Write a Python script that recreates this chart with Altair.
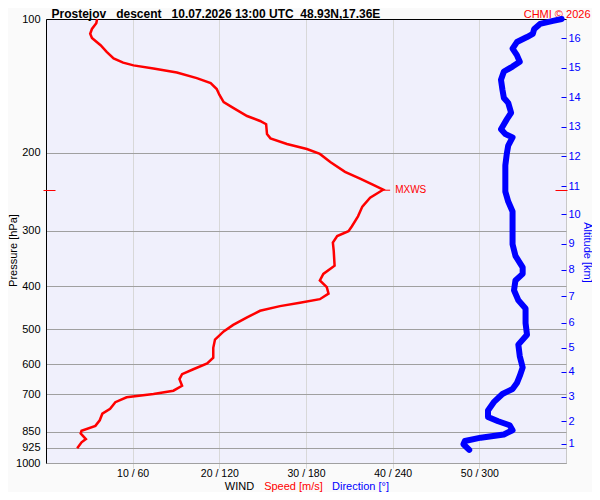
import altair as alt
import pandas as pd

FONT = "Liberation Sans"
TITLE = "Prostejov\u00a0\u00a0 descent\u00a0\u00a0 10.07.2026 13:00 UTC\u00a0 48.93N,17.36E"
COPY = "CHMI © 2026"

# wind speed profile (pressure hPa, speed m/s)
speed_p = [100.0, 102.2, 105.3, 108.0, 110.4, 114.6, 118.6, 122.7, 125.4, 127.2,
           129.2, 132.0, 135.9, 139.5, 143.8, 148.1, 153.9, 158.5, 165.4, 169.7,
           172.6, 181.6, 185.7, 191.2, 196.2, 201.3, 210.0, 221.0, 229.1, 236.2,
           242.4, 252.5, 264.5, 278.3, 292.9, 300.5, 308.3, 319.0, 333.0, 359.4,
           375.0, 388.1, 401.6, 415.4, 427.6, 435.8, 443.3, 454.1, 469.7, 488.5,
           505.4, 527.3, 550.4, 579.3, 596.4, 615.0, 631.0, 647.4, 669.9, 687.3,
           699.1, 711.1, 729.5, 754.9, 774.4, 801.4, 824.7, 846.1, 857.9, 883.1,
           898.1, 926.3]
speed_ms = [5.9, 5.8, 5.3, 5.1, 5.3, 6.3, 7.0, 7.8, 8.9, 10.1,
            12.4, 15.1, 17.4, 19.0, 19.7, 20.0, 20.5, 21.6, 23.2, 24.7,
            25.4, 25.5, 25.9, 27.8, 30.1, 31.6, 32.8, 34.5, 36.3, 37.7,
            38.9, 37.4, 36.5, 36.0, 35.3, 34.9, 33.6, 33.1, 33.2, 33.3,
            32.0, 31.6, 32.4, 32.6, 31.6, 29.3, 27.0, 24.7, 23.2, 21.6,
            20.5, 19.5, 19.3, 19.3, 18.6, 17.0, 15.7, 15.4, 15.7, 14.7,
            12.4, 9.3, 8.0, 7.4, 6.5, 6.2, 5.7, 4.1, 4.0, 4.6,
            4.1, 3.6]

# wind direction profile (pressure hPa, direction deg)
dir_p = [100.0, 101.0, 102.6, 105.3, 108.0, 109.8, 112.7, 116.6, 120.6, 124.8,
         128.0, 131.3, 137.1, 144.3, 150.6, 154.5, 162.6, 168.3, 177.1, 181.6,
         184.8, 192.8, 201.3, 213.6, 224.7, 244.8, 257.7, 271.3, 285.4, 305.5,
         321.6, 341.5, 362.5, 375.0, 388.1, 408.4, 429.8, 448.6, 484.4, 514.1,
         541.2, 574.6, 609.7, 636.6, 660.7, 681.3, 699.1, 729.5, 761.5, 787.6,
         805.4, 822.1, 843.6, 862.3, 876.9, 892.1, 907.4, 934.3]
dir_deg = [357, 351, 342, 338, 337, 333, 326, 323, 326, 328,
           323, 317, 315, 316, 317, 320, 322, 319, 315, 318,
           323, 320, 319, 318, 318, 318, 320, 323, 323, 323,
           323, 325, 330, 330, 325, 324, 327, 332, 332, 333,
           327, 328, 330, 328, 326, 323, 316, 310, 306, 306,
           313, 321, 323, 317, 301, 290, 289, 293]

# altitude scale (km at pressure hPa)
alt_km = [1, 2, 3, 4, 5, 6, 7, 8, 9, 10, 11, 12, 13, 14, 15, 16]
alt_p = [904.1, 805.4, 708.8, 622.3, 550.4, 482.8, 421.2, 367.3,
         320.6, 275.0, 237.8, 203.9, 174.9, 150.1, 128.7, 110.4]

pressure_ticks = [100, 200, 300, 400, 500, 600, 700, 850, 925, 1000]
speed_ticks = [10, 20, 30, 40, 50]

mxws_p = 243.0
mxws_v = 38.9
mxws_label = "MXWS"

speed_df = pd.DataFrame({"i": range(len(speed_p)), "p": speed_p, "v": speed_ms})
dir_df = pd.DataFrame({"i": range(len(dir_p)), "p": dir_p, "d": dir_deg})
alt_df = pd.DataFrame({"km": alt_km, "p": alt_p})
mx_df = pd.DataFrame({"p": [mxws_p], "v": [mxws_v], "t": [mxws_label]})

alt_label_expr = ("[" + ",".join(f"'{k}'" for k in alt_km) + "][indexof(["
                  + ",".join(str(p) for p in alt_p) + "], datum.value)]")


def ysc():
    return alt.Scale(type="log", domain=[100, 1000], reverse=True, nice=False)


def xsc():
    return alt.Scale(domain=[0, 60], nice=False, zero=False)


TT = dict(titleFont=FONT, titleFontSize=11, titleFontWeight="normal")
BLANK = dict(domain=False, ticks=False, labels=False, grid=False)
BOTTOM_Y = 26.5

speed = alt.Chart(speed_df).mark_line(color="#ff0000", strokeWidth=2.5).encode(
    x=alt.X("v:Q", scale=xsc(), axis=alt.Axis(
        orient="bottom", values=speed_ticks,
        labelExpr="datum.value + ' / ' + datum.value * 6",
        grid=True, gridColor="#d8d8d8", tickColor="#d8d8d8", tickSize=5,
        domainColor="#a0a0a0", labelPadding=0, labelFontSize=10.5,
        labelColor="#000000", labelFont=FONT,
        title="Speed [m/s]", titleColor="#ff0000", titleX=247, titleY=BOTTOM_Y,
        titleAlign="center", titleBaseline="alphabetic", **TT)),
    y=alt.Y("p:Q", scale=ysc(), axis=alt.Axis(
        orient="left", values=pressure_ticks, format="d",
        grid=True, gridColor="#a0a0a0", ticks=False, tickSize=0,
        domainColor="#000000", labelPadding=6, labelFontSize=11,
        labelColor="#000000", labelFont=FONT,
        title="Pressure [hPa]", titleColor="#000000", titleX=-33, titleY=231,
        titleAngle=270, titleAlign="center", titleBaseline="middle", **TT)),
    order="i:Q",
)

direction = alt.Chart(dir_df).mark_line(
    color="#0000ff", strokeWidth=6, strokeJoin="round", strokeCap="round"
).encode(
    x=alt.X("d:Q", scale=alt.Scale(domain=[0, 360], nice=False), axis=alt.Axis(
        orient="top", domain=True, domainColor="#000000", ticks=False,
        labels=False, grid=False,
        title=TITLE, titleColor="#000000", titleX=5, titleY=-2,
        titleAlign="left", titleFont=FONT, titleFontSize=12,
        titleFontWeight="bold", titleBaseline="alphabetic")),
    y=alt.Y("p:Q", scale=ysc(), axis=None),
    order="i:Q",
)

altitude = alt.Chart(alt_df).mark_point(opacity=0).encode(
    x=alt.X("km:Q", scale=alt.Scale(domain=[0, 20]), axis=alt.Axis(
        orient="bottom", **BLANK,
        title="Direction [°]", titleColor="#0000ff", titleX=314, titleY=BOTTOM_Y,
        titleAlign="center", titleBaseline="alphabetic", **TT)),
    y=alt.Y("p:Q", scale=ysc(), axis=alt.Axis(
        orient="right", values=alt_p, labelExpr=alt_label_expr,
        offset=-5, tickSize=5, tickColor="#0000ff", domain=False, grid=False,
        labelColor="#0000ff", labelPadding=2, labelFontSize=11, labelFont=FONT,
        title="Altitude [km]", titleColor="#0000ff", titleX=25, titleY=233,
        titleAngle=90, titleAlign="center", titleBaseline="middle", **TT)),
)

peak = alt.Chart(mx_df).mark_rule(color="#ff0000", x2Offset=7).encode(
    x=alt.X("v:Q", scale=xsc(), axis=alt.Axis(
        orient="bottom", **BLANK,
        title="WIND", titleColor="#000000", titleX=193, titleY=BOTTOM_Y,
        titleAlign="center", titleBaseline="alphabetic", **TT)),
    x2="v:Q",
    y=alt.Y("p:Q", scale=ysc(), axis=alt.Axis(
        orient="left", values=[mxws_p], offset=-9, tickSize=12,
        tickColor="#ff0000", labels=False, domain=False, grid=False,
        title=None)),
)

label = alt.Chart(mx_df).mark_text(
    color="#ff0000", align="left", baseline="middle", dx=12, fontSize=10,
    font=FONT
).encode(
    x=alt.X("v:Q", scale=xsc(), axis=alt.Axis(
        orient="top", **BLANK,
        title=COPY, titleColor="#ff0000", titleX=544, titleY=-2,
        titleAlign="right", titleBaseline="alphabetic", **TT)),
    y=alt.Y("p:Q", scale=ysc(), axis=alt.Axis(
        orient="right", values=[mxws_p], offset=-11, tickSize=12,
        tickColor="#ff0000", labels=False, domain=False, grid=False,
        title=None)),
    text="t:N",
)

chart = alt.layer(speed, direction, altitude, peak, label).resolve_scale(
    x="independent", y="independent"
).properties(
    width=520, height=444,
    autosize=alt.AutoSizeParams(type="none"),
    padding={"left": 38, "top": 11, "right": 26, "bottom": 29},
    background="#fafafa",
).configure_view(
    fill="#f0f0fc", stroke="#c8c8c8", strokeWidth=1
).configure_axis(
    labelFont=FONT, titleFont=FONT
)

chart.save("out.html", embed_options={"renderer": "svg", "actions": False})
